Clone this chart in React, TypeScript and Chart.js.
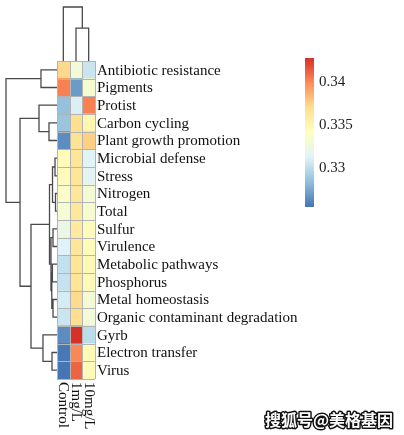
import React, { useEffect, useRef } from "react";
import { Chart, registerables } from "chart.js";

Chart.register(...registerables);

// ---------- data ----------
const rowLabels = [
  "Antibiotic resistance",
  "Pigments",
  "Protist",
  "Carbon cycling",
  "Plant growth promotion",
  "Microbial defense",
  "Stress",
  "Nitrogen",
  "Total",
  "Sulfur",
  "Virulence",
  "Metabolic pathways",
  "Phosphorus",
  "Metal homeostasis",
  "Organic contaminant degradation",
  "Gyrb",
  "Electron transfer",
  "Virus",
];
const colLabels = ["Control", "1mg/L", "10mg/L"];

const controlValues = [
  0.3373, 0.3403, 0.3285, 0.3287, 0.3264, 0.3345, 0.3344, 0.3337, 0.3332,
  0.3322, 0.3312, 0.3302, 0.3303, 0.3309, 0.3305, 0.3264, 0.3256, 0.3255,
];
const mg1Values = [
  0.333, 0.327, 0.3311, 0.337, 0.3368, 0.3365, 0.3365, 0.3364, 0.3363,
  0.3362, 0.3364, 0.3366, 0.3365, 0.3372, 0.3371, 0.3428, 0.3401, 0.3412,
];
const mg10Values = [
  0.3305, 0.3333, 0.3403, 0.335, 0.3376, 0.3314, 0.3315, 0.333, 0.3333,
  0.3344, 0.3345, 0.3347, 0.3346, 0.3331, 0.3329, 0.33, 0.3347, 0.3346,
];

const legendTicks = [0.33, 0.335, 0.34];
const legendTickLabels = ["0.33", "0.335", "0.34"];

const paletteStops = [
  "#4575B4",
  "#91BFDB",
  "#E0F3F8",
  "#FFFFBF",
  "#FEE090",
  "#FC8D59",
  "#D73027",
];

// row dendrogram merges: [childA, childB, height]; leaves are 0..17, merges 18..
const rowMerges: [number, number, number][] = [
  [0, 1, 0.314], // 18
  [3, 4, 0.157], // 19
  [2, 19, 0.353], // 20
  [5, 6, 0.039], // 21
  [7, 8, 0.029], // 22
  [21, 22, 0.088], // 23
  [9, 10, 0.078], // 24
  [11, 12, 0.09], // 25
  [13, 14, 0.078], // 26
  [25, 26, 0.102], // 27
  [24, 27, 0.118], // 28
  [23, 28, 0.147], // 29
  [16, 17, 0.098], // 30
  [15, 30, 0.275], // 31
  [29, 31, 0.51], // 32
  [20, 32, 0.725], // 33
  [18, 33, 1.0], // 34
];

// column dendrogram merges; leaves 0..2, merges 3..
const colMerges: [number, number, number][] = [
  [1, 2, 0.61], // 3
  [0, 3, 1.0], // 4
];

const watermark = "搜狐号@美格基因";

// ---------- helpers ----------
const allValues = [...controlValues, ...mg1Values, ...mg10Values];
const vMin = Math.min(...allValues);
const vMax = Math.max(...allValues);

function hexToRgb(h: string) {
  const n = parseInt(h.slice(1), 16);
  return [(n >> 16) & 255, (n >> 8) & 255, n & 255];
}
const stopRgb = paletteStops.map(hexToRgb);

function colorFor(v: number) {
  let t = (v - vMin) / (vMax - vMin);
  t = Math.max(0, Math.min(1, t));
  const seg = t * (stopRgb.length - 1);
  const i = Math.min(Math.floor(seg), stopRgb.length - 2);
  const f = seg - i;
  const a = stopRgb[i];
  const b = stopRgb[i + 1];
  const c = a.map((x, k) => Math.round(x + (b[k] - x) * f));
  return `rgb(${c[0]},${c[1]},${c[2]})`;
}

const columns = [controlValues, mg1Values, mg10Values];

const SERIF = '"Times New Roman", "Liberation Serif", "DejaVu Serif", "Noto Serif", serif';

const heatmapPlugin = {
  id: "heatmapExtras",
  afterDatasetsDraw(chart: any) {
    const ctx = chart.ctx as CanvasRenderingContext2D;
    const xs = chart.scales.x;
    const ys = chart.scales.y;
    const area = chart.chartArea;
    const n = rowLabels.length;
    const rowH = (area.bottom - area.top) / n;

    // grid lines
    ctx.save();
    ctx.strokeStyle = "#b4b4b4";
    ctx.lineWidth = 1;
    ctx.beginPath();
    for (let c = 0; c <= colLabels.length; c++) {
      const x = Math.round(xs.getPixelForValue(c)) + 0.5;
      ctx.moveTo(x, area.top);
      ctx.lineTo(x, area.bottom);
    }
    for (let r = 0; r <= n; r++) {
      const y =
        Math.round(
          r < n ? ys.getPixelForValue(r) - rowH / 2 : ys.getPixelForValue(n - 1) + rowH / 2
        ) + 0.5;
      ctx.moveTo(area.left, y);
      ctx.lineTo(area.right, y);
    }
    ctx.stroke();
    ctx.restore();

    // row labels
    ctx.save();
    ctx.fillStyle = "#111";
    ctx.font = `15px ${SERIF}`;
    ctx.textAlign = "left";
    ctx.textBaseline = "middle";
    rowLabels.forEach((lab, i) => {
      ctx.fillText(lab, area.right + 2, ys.getPixelForValue(i) + 1);
    });
    ctx.restore();

    // column labels (rotated, reading downward)
    ctx.save();
    ctx.fillStyle = "#111";
    ctx.font = `15px ${SERIF}`;
    ctx.textAlign = "left";
    ctx.textBaseline = "middle";
    colLabels.forEach((lab, i) => {
      const x = xs.getPixelForValue(i + 0.5);
      ctx.save();
      ctx.translate(x, area.bottom + 3);
      ctx.rotate(Math.PI / 2);
      ctx.fillText(lab, 0, 0);
      ctx.restore();
    });
    ctx.restore();

    // row dendrogram
    const leftW = 51;
    const nodeY: number[] = rowLabels.map((_, i) => ys.getPixelForValue(i));
    const nodeH: number[] = rowLabels.map(() => 0);
    const hx = (h: number) => area.left - h * leftW;
    ctx.save();
    ctx.strokeStyle = "#4a4a4a";
    ctx.lineWidth = 1.3;
    ctx.beginPath();
    rowMerges.forEach(([a, b, h]) => {
      const ya = nodeY[a];
      const yb = nodeY[b];
      const x = hx(h);
      ctx.moveTo(hx(nodeH[a]), ya);
      ctx.lineTo(x, ya);
      ctx.lineTo(x, yb);
      ctx.lineTo(hx(nodeH[b]), yb);
      nodeY.push((ya + yb) / 2);
      nodeH.push(h);
    });
    ctx.stroke();

    // column dendrogram
    const topH = 54;
    const nodeX: number[] = colLabels.map((_, i) => xs.getPixelForValue(i + 0.5));
    const cH: number[] = colLabels.map(() => 0);
    const vy = (h: number) => area.top - h * topH;
    ctx.beginPath();
    colMerges.forEach(([a, b, h]) => {
      const xa = nodeX[a];
      const xb = nodeX[b];
      const y = vy(h);
      ctx.moveTo(xa, vy(cH[a]));
      ctx.lineTo(xa, y);
      ctx.lineTo(xb, y);
      ctx.lineTo(xb, vy(cH[b]));
      nodeX.push((xa + xb) / 2);
      cH.push(h);
    });
    ctx.stroke();
    ctx.restore();

    // colour bar legend
    const lbX = 305;
    const lbW = 9;
    const lbTop = 58;
    const lbBottom = 207;
    ctx.save();
    const grad = ctx.createLinearGradient(0, lbBottom, 0, lbTop);
    paletteStops.forEach((c, i) => grad.addColorStop(i / (paletteStops.length - 1), c));
    ctx.fillStyle = grad;
    ctx.fillRect(lbX, lbTop, lbW, lbBottom - lbTop);
    ctx.fillStyle = "#222";
    ctx.font = `15px ${SERIF}`;
    ctx.textAlign = "left";
    ctx.textBaseline = "middle";
    legendTicks.forEach((v, i) => {
      const y = lbBottom - ((v - vMin) / (vMax - vMin)) * (lbBottom - lbTop);
      ctx.fillText(legendTickLabels[i], lbX + lbW + 5, y);
    });
    ctx.restore();

    // watermark
    ctx.save();
    ctx.font = 'bold 16px "Noto Sans CJK SC", sans-serif';
    ctx.textAlign = "left";
    ctx.textBaseline = "middle";
    ctx.lineWidth = 3;
    ctx.lineJoin = "round";
    ctx.strokeStyle = "#111";
    ctx.strokeText(watermark, 265, 420);
    ctx.fillStyle = "#fff";
    ctx.fillText(watermark, 265, 420);
    ctx.restore();
  },
};

export default function App() {
  const ref = useRef<HTMLCanvasElement | null>(null);
  useEffect(() => {
    document.body.style.margin = "0";
    const canvas = ref.current;
    if (!canvas) return;
    const chart = new Chart(canvas, {
      type: "bar",
      data: {
        labels: rowLabels,
        datasets: colLabels.map((c, i) => ({
          label: c,
          data: rowLabels.map(() => 1),
          backgroundColor: columns[i].map(colorFor),
          borderWidth: 0,
          barPercentage: 1,
          categoryPercentage: 1,
        })),
      },
      options: {
        indexAxis: "y",
        responsive: false,
        animation: false,
        events: [],
        layout: { padding: { left: 57, top: 61, right: 309, bottom: 56 } },
        scales: {
          x: { stacked: true, min: 0, max: 3, display: false },
          y: { stacked: true, display: false },
        },
        plugins: {
          legend: { display: false },
          tooltip: { enabled: false },
        },
      },
      plugins: [heatmapPlugin],
    } as any);
    return () => chart.destroy();
  }, []);
  return (
    <div style={{ width: 404, height: 435, background: "#fff" }}>
      <canvas ref={ref} width={404} height={435} />
    </div>
  );
}
